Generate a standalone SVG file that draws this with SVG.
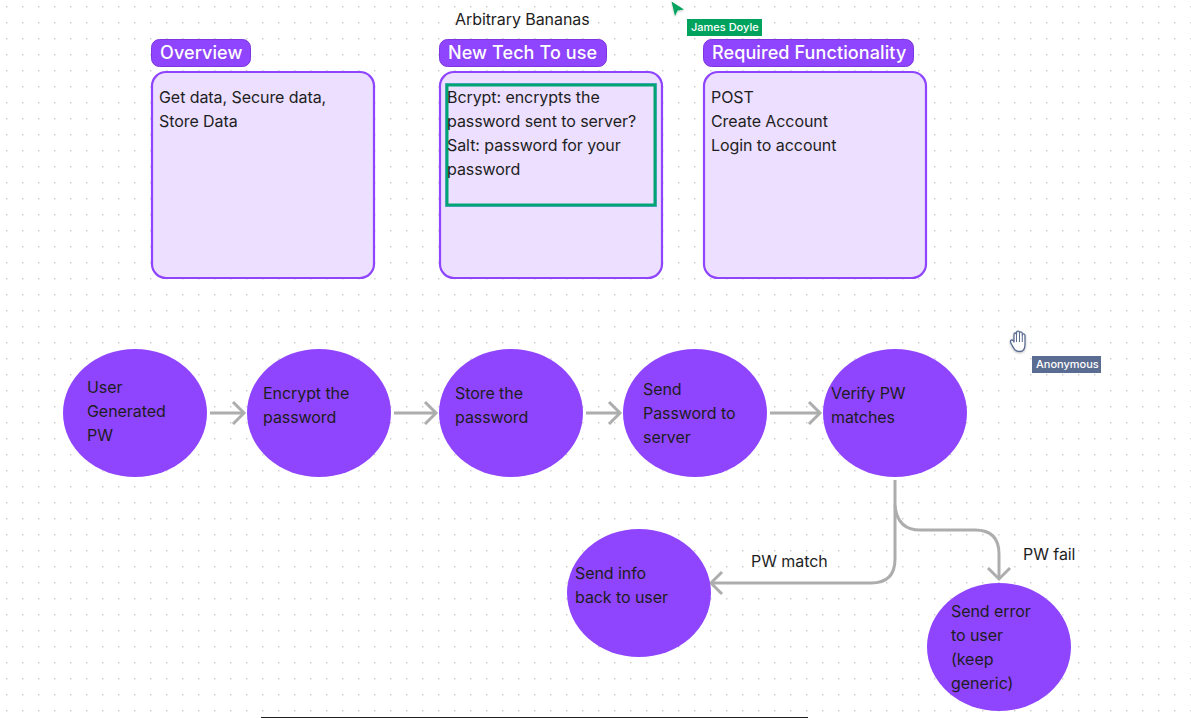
<svg xmlns="http://www.w3.org/2000/svg" width="1191" height="718" viewBox="0 0 1191 718">
<style>
text{font-family:Inter,"Liberation Sans",sans-serif;font-size:16px;fill:#1e1e1e;letter-spacing:-.07px}
.title{font-size:18px;font-weight:500;fill:#fff;letter-spacing:.1px}
.pill{fill:#8f44fd;stroke:#7c35e0;stroke-width:1}
.card{fill:#ecdfff;stroke:#8f44fd;stroke-width:2.200}
.node{fill:#8f44fd}
.conn{fill:none;stroke:#adadad;stroke-width:3}
.tag{font-size:11px;font-weight:500;fill:#fff;letter-spacing:0}
</style>
<defs>
<pattern id="dots" width="16" height="16" patternUnits="userSpaceOnUse" x="6" y="6"><rect width="1.500" height="1.500" fill="#d2d2d2"/></pattern>
<marker id="head" markerUnits="userSpaceOnUse" markerWidth="16" markerHeight="26" refX="13" refY="13" orient="auto"><path d="M2 2L13 13L2 24" fill="none" stroke="#adadad" stroke-width="3"/></marker>
<filter id="sh" x="-30%" y="-30%" width="160%" height="160%"><feDropShadow dx="0" dy="1" stdDeviation="1" flood-color="#000" flood-opacity=".25"/></filter>
</defs>
<rect width="1191" height="718" fill="#fff"/>
<rect width="1191" height="718" fill="url(#dots)"/>
<text id="heading" x="455" y="25">Arbitrary Bananas</text>
<g id="overview">
<rect class="card" x="152" y="72" width="222" height="206" rx="14"/>
<rect class="pill" x="151.500" y="39.500" width="99" height="27" rx="8"/>
<text class="title" x="160" y="59">Overview</text>
<text x="159" y="103">Get data, Secure data,</text>
<text x="159" y="127">Store Data</text>
</g>
<g id="new-tech">
<rect class="card" x="440" y="72" width="222" height="206" rx="14"/>
<rect class="pill" x="439.500" y="39.500" width="167" height="27" rx="8"/>
<text class="title" x="448" y="59">New Tech To use</text>
<rect x="445.500" y="83.500" width="211" height="123" fill="none" stroke="#7aa7ee" stroke-width="1"/>
<rect x="447" y="85" width="208" height="120" fill="none" stroke="#00a573" stroke-width="3"/>
<text x="447" y="103">Bcrypt: encrypts the</text>
<text x="447" y="127">password sent to server?</text>
<text x="447" y="151">Salt: password for your</text>
<text x="447" y="175">password</text>
</g>
<g id="required">
<rect class="card" x="704" y="72" width="222" height="206" rx="14"/>
<rect class="pill" x="703.500" y="39.500" width="210" height="27" rx="8"/>
<text class="title" x="712" y="59">Required Functionality</text>
<text x="711" y="103">POST</text>
<text x="711" y="127">Create Account</text>
<text x="711" y="151">Login to account</text>
</g>
<g id="connectors">
<path class="conn" marker-end="url(#head)" d="M210 413H244"/>
<path class="conn" marker-end="url(#head)" d="M394 413H436"/>
<path class="conn" marker-end="url(#head)" d="M586 413H620"/>
<path class="conn" marker-end="url(#head)" d="M770 413H820"/>
<path class="conn" marker-end="url(#head)" d="M895 480V559Q895 583 871 583H711"/>
<path class="conn" marker-end="url(#head)" d="M895 505Q897 530 920 530H975Q999 530 999 554V579"/>
</g>
<g id="n1"><ellipse class="node" cx="135" cy="413" rx="72" ry="64"/><text x="87" y="393">User</text><text x="87" y="417">Generated</text><text x="87" y="441">PW</text></g>
<g id="n2"><ellipse class="node" cx="319" cy="413" rx="72" ry="64"/><text x="263" y="399">Encrypt the</text><text x="263" y="423">password</text></g>
<g id="n3"><ellipse class="node" cx="511" cy="413" rx="72" ry="64"/><text x="455" y="399">Store the</text><text x="455" y="423">password</text></g>
<g id="n4"><ellipse class="node" cx="695" cy="413" rx="72" ry="64"/><text x="643" y="395">Send</text><text x="643" y="419">Password to</text><text x="643" y="443">server</text></g>
<g id="n5"><ellipse class="node" cx="895" cy="413" rx="72" ry="64"/><text x="831" y="399">Verify PW</text><text x="831" y="423">matches</text></g>
<g id="n6"><ellipse class="node" cx="639" cy="593" rx="72" ry="64"/><text x="575" y="579">Send info</text><text x="575" y="603">back to user</text></g>
<g id="n7"><ellipse class="node" cx="999" cy="647" rx="72" ry="64"/><text x="951" y="617">Send error</text><text x="951" y="641">to user</text><text x="951" y="665">(keep</text><text x="951" y="689">generic)</text></g>
<text id="label-match" x="751" y="567">PW match</text>
<text id="label-fail" x="1023" y="560">PW fail</text>
<g id="cursor-james">
<polygon points="671.500,1.500 684,9.500 677.500,10.500 675,16" fill="#00a35e" filter="url(#sh)"/>
<rect x="687" y="19" width="75" height="17" fill="#00a35e"/>
<text class="tag" x="691" y="31">James Doyle</text>
</g>
<g id="cursor-anonymous">
<path d="M1015 350C1013 347 1011 344 1010.500 342C1010 340 1012 339.500 1013 340.500L1014 342V334.500C1014 332.500 1016.500 332.500 1016.500 334.500V332.500C1016.500 330.800 1019.500 330.800 1019.500 332.500V333C1019.500 331.500 1022.300 331.500 1022.300 333.500V335C1022.300 333.500 1025 333.500 1025 335.500V344C1025 349 1023 351.500 1020 351.500C1017.500 351.500 1016 351 1015 350Z" fill="#fff" stroke="#5a6c91" stroke-width="1.300" stroke-linejoin="round" filter="url(#sh)"/>
<path d="M1016.500 334V342M1019.500 333V342M1022.300 335V342" fill="none" stroke="#5a6c91" stroke-width="1"/>
<rect x="1032" y="356" width="69" height="17" fill="#5a6c91"/>
<text class="tag" x="1036" y="368">Anonymous</text>
</g>
<rect id="bottom-bar" x="261" y="717" width="547" height="1" fill="#1e1e1e"/>
</svg>
